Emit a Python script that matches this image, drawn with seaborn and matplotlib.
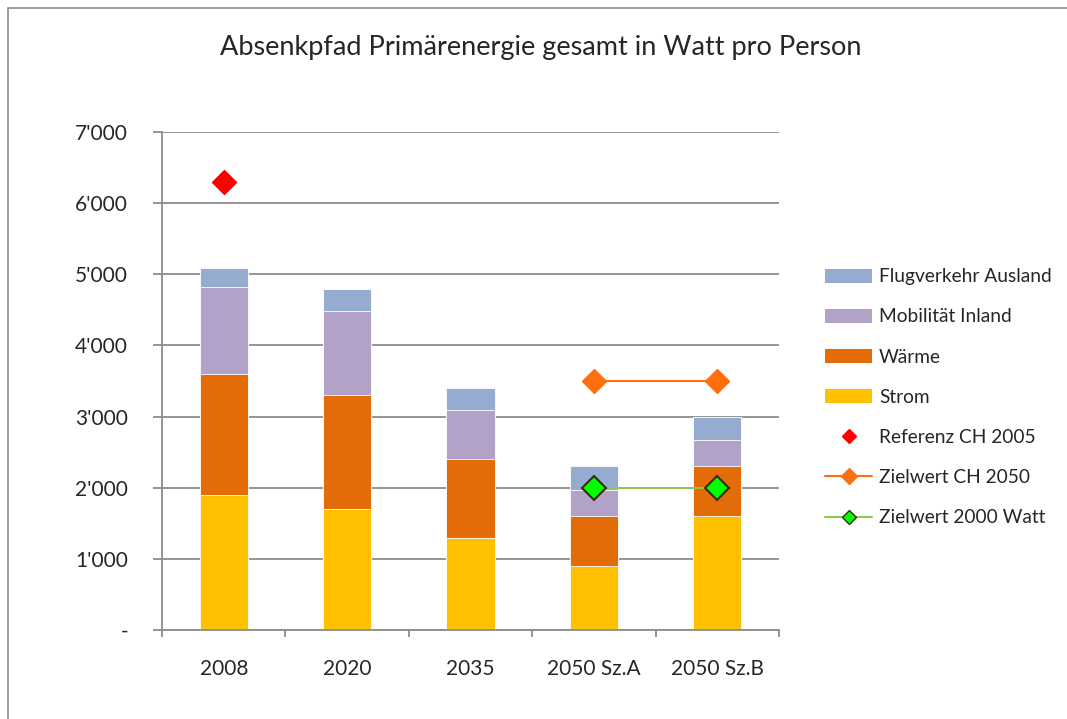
import numpy as np
import pandas as pd
import matplotlib
matplotlib.use("Agg")
import matplotlib.pyplot as plt
import seaborn as sns
from matplotlib.patches import Patch, Rectangle
from matplotlib.lines import Line2D
from matplotlib.ticker import FuncFormatter

categories = ["2008", "2020", "2035", "2050 Sz.A", "2050 Sz.B"]
strom = [1900, 1700, 1300, 900, 1600]
waerme = [1700, 1600, 1100, 700, 700]
mobilitaet = [1220, 1180, 690, 370, 370]
flugverkehr = [270, 320, 310, 330, 330]
referenz_cat = ["2008"]
referenz_val = [6300]
ziel_ch_cat = ["2050 Sz.A", "2050 Sz.B"]
ziel_ch_val = [3500, 3500]
ziel_2000_cat = ["2050 Sz.A", "2050 Sz.B"]
ziel_2000_val = [2000, 2000]
yticks = [0, 1000, 2000, 3000, 4000, 5000, 6000, 7000]

series = [("Strom", strom, "#FFC000"),
          ("Wärme", waerme, "#E36C09"),
          ("Mobilität Inland", mobilitaet, "#B3A2C7"),
          ("Flugverkehr Ausland", flugverkehr, "#95ABD0")]

sns.set_theme(style="white")
plt.rcParams["font.family"] = ["Lato", "DejaVu Sans"]

fig = plt.figure(figsize=(10.67, 7.19), dpi=100)
ax = fig.add_axes([162/1067, 1-630/719, (779-162)/1067, (630-132)/719])

# stacked bars via cumulative totals, drawn from top layer down
cum = np.zeros(len(categories))
cums = []
for name, vals, col in series:
    cum = cum + np.array(vals)
    cums.append((name, cum.copy(), col))
for name, tot, col in reversed(cums):
    df = pd.DataFrame({"cat": categories, "val": tot})
    sns.barplot(data=df, x="cat", y="val", color=col, saturation=1,
                width=0.39, ax=ax, edgecolor="white", linewidth=0.6, zorder=2)

pos = {c: i for i, c in enumerate(categories)}
ax.plot([pos[c] for c in referenz_cat], referenz_val, linestyle="none",
        marker="D", markersize=12, color="#FF0000", zorder=5)
ax.plot([pos[c] for c in ziel_ch_cat], ziel_ch_val, color="#FF6F10", lw=1.5,
        marker="D", markersize=12, markerfacecolor="#FF6F10",
        markeredgecolor="#FF6F10", zorder=5)
ax.plot([pos[c] for c in ziel_2000_cat], ziel_2000_val, color="#8CCB4A", lw=1.3,
        marker="D", markersize=12, markerfacecolor="#00FF00",
        markeredgecolor="#3A2A10", markeredgewidth=1.5, zorder=6)

ax.set_xlim(-0.5, len(categories) - 0.5)
ax.set_ylim(0, 7000)
ax.set_yticks(yticks)
ax.yaxis.set_major_formatter(FuncFormatter(
    lambda v, p: "-" if v == 0 else f"{int(v):,}".replace(",", "'")))
ax.yaxis.grid(True, color="#8C8C8C", linewidth=1.3, zorder=0)
ax.set_axisbelow(True)
ax.set_xlabel("")
ax.set_ylabel("")
for s in ["top", "right"]:
    ax.spines[s].set_visible(False)
for s in ["left", "bottom"]:
    ax.spines[s].set_color("#8C8C8C")
    ax.spines[s].set_linewidth(1.3)

ax.tick_params(axis="y", length=6.5, width=1.3, color="#8C8C8C", direction="out",
               labelsize=15, pad=18, left=True)
ax.tick_params(axis="x", length=0, labelsize=15, pad=21)
# minor ticks between categories on x
ax.set_xticks(np.arange(-0.5, len(categories), 1.0), minor=True)
ax.tick_params(axis="x", which="minor", length=5, width=1.3, color="#8C8C8C",
               direction="out", bottom=True)

fig.text(541/1067, 1-47/719, "Absenkpfad Primärenergie gesamt in Watt pro Person",
         ha="center", va="center", fontsize=19.5)

handles = [Patch(facecolor=c, edgecolor="none") for n, v, c in reversed(series)]
labels = [n for n, v, c in reversed(series)]
handles += [
    Line2D([], [], linestyle="none", marker="D", markersize=7, color="#FF0000"),
    Line2D([], [], color="#FF6F10", lw=1.5, marker="D", markersize=8,
           markerfacecolor="#FF6F10", markeredgecolor="#FF6F10"),
    Line2D([], [], color="#8CCB4A", lw=1.5, marker="D", markersize=7,
           markerfacecolor="#00FF00", markeredgecolor="#3A2A10"),
]
labels += ["Referenz CH 2005", "Zielwert CH 2050", "Zielwert 2000 Watt"]
fig.legend(handles, labels, loc="upper left",
           bbox_to_anchor=(808/1067, 1-251/719), frameon=False, fontsize=13.8,
           handlelength=2.45, handleheight=0.75, labelspacing=1.21,
           handletextpad=0.35)

fig.patches.append(Rectangle((8/1067, -0.1), 1.2, 1 - 8/719 + 0.1,
                             transform=fig.transFigure, fill=False,
                             edgecolor="#8C8C8C", linewidth=1.2))

fig.savefig("out.png", dpi=100)
